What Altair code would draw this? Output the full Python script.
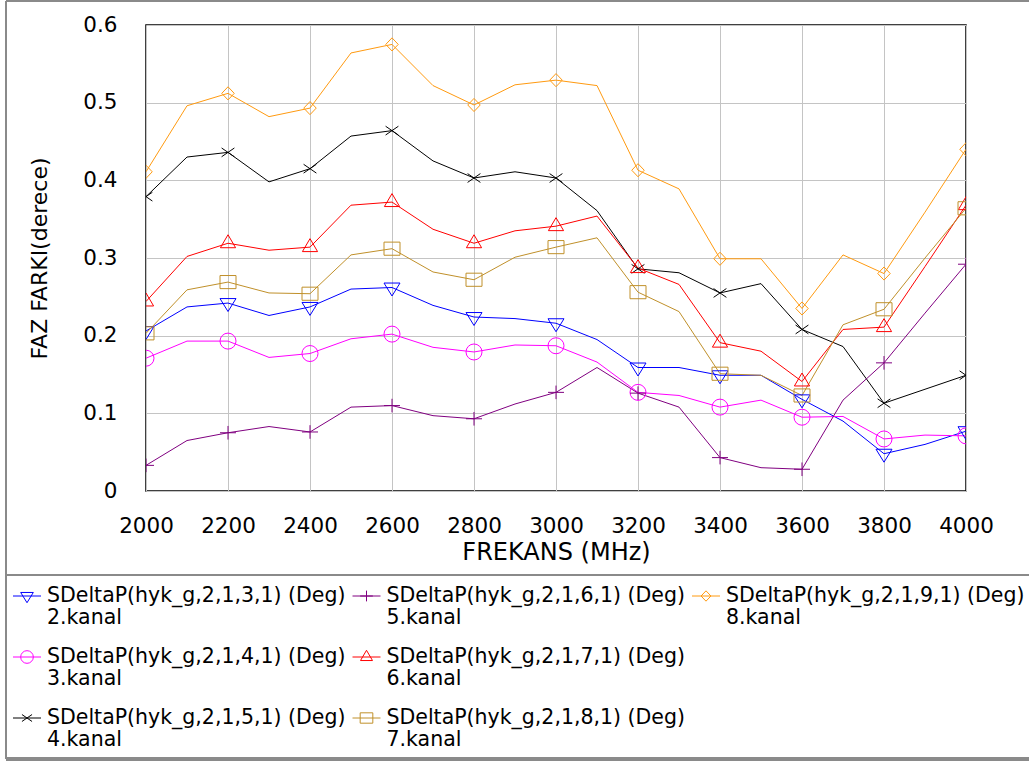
import altair as alt
import pandas as pd

# ---------------- data ----------------
freq = [2000, 2100, 2200, 2300, 2400, 2500, 2600, 2700, 2800, 2900, 3000,
        3100, 3200, 3300, 3400, 3500, 3600, 3700, 3800, 3900, 4000]
x_ticks = [2000, 2200, 2400, 2600, 2800, 3000, 3200, 3400, 3600, 3800, 4000]
y_ticks = [0, 0.1, 0.2, 0.3, 0.4, 0.5, 0.6]

k2 = [0.206, 0.237, 0.242, 0.226, 0.237, 0.260, 0.262, 0.239, 0.224, 0.222, 0.216,
      0.195, 0.159, 0.159, 0.149, 0.149, 0.118, 0.090, 0.048, 0.060, 0.077]
k3 = [0.171, 0.193, 0.193, 0.172, 0.177, 0.196, 0.202, 0.185, 0.179, 0.188, 0.187,
      0.166, 0.127, 0.123, 0.108, 0.117, 0.095, 0.096, 0.067, 0.072, 0.071]
k4 = [0.379, 0.430, 0.436, 0.398, 0.415, 0.457, 0.464, 0.425, 0.403, 0.411, 0.403,
      0.361, 0.286, 0.281, 0.255, 0.267, 0.208, 0.186, 0.113, 0.131, 0.149]
k5 = [0.033, 0.065, 0.075, 0.083, 0.076, 0.108, 0.110, 0.097, 0.093, 0.112, 0.127,
      0.159, 0.126, 0.108, 0.043, 0.030, 0.028, 0.117, 0.165, 0.229, 0.292]
k6 = [0.244, 0.302, 0.319, 0.310, 0.314, 0.368, 0.372, 0.337, 0.319, 0.335, 0.341,
      0.354, 0.287, 0.266, 0.191, 0.180, 0.141, 0.208, 0.211, 0.289, 0.368]
k7 = [0.203, 0.259, 0.269, 0.255, 0.254, 0.304, 0.312, 0.282, 0.272, 0.301, 0.314,
      0.326, 0.256, 0.231, 0.151, 0.149, 0.123, 0.214, 0.234, 0.300, 0.364]
k8 = [0.411, 0.496, 0.512, 0.482, 0.493, 0.564, 0.575, 0.522, 0.497, 0.523, 0.529,
      0.522, 0.413, 0.389, 0.299, 0.299, 0.235, 0.304, 0.280, 0.359, 0.440]

series_names = ["2.kanal", "3.kanal", "4.kanal", "5.kanal", "6.kanal", "7.kanal", "8.kanal"]
series_values = [k2, k3, k4, k5, k6, k7, k8]
legend_titles = ["SDeltaP(hyk_g,2,1,3,1) (Deg)", "SDeltaP(hyk_g,2,1,4,1) (Deg)",
                 "SDeltaP(hyk_g,2,1,5,1) (Deg)", "SDeltaP(hyk_g,2,1,6,1) (Deg)",
                 "SDeltaP(hyk_g,2,1,7,1) (Deg)", "SDeltaP(hyk_g,2,1,8,1) (Deg)",
                 "SDeltaP(hyk_g,2,1,9,1) (Deg)"]
legend_col = [0, 0, 0, 1, 1, 1, 2]
legend_row = [0, 1, 2, 0, 1, 2, 0]

# ---------------- styles ----------------
colors = ["#0000ff", "#ff00ff", "#000000", "#800080", "#ff0000", "#c0902a", "#ff9a10"]
shapes = [
    "M-1,-0.56L1,-0.56L0,1.06Z",                       # triangle down
    "circle",
    "M-0.8,-0.55L0.8,0.55M-0.8,0.55L0.8,-0.55",        # x
    "M-1,0L1,0M0,-0.85L0,0.85",                        # plus
    "M-0.95,0.56L0.95,0.56L0,-1.06Z",                  # triangle up
    "M-1,-0.82H1V0.82H-1Z",                            # square
    "M0,-0.82L0.78,0L0,0.82L-0.78,0Z",                 # diamond
]
FONT = "DejaVu Sans"

rows = []
for name, vals in zip(series_names, series_values):
    for f, v in zip(freq, vals):
        rows.append({"f": f, "v": v, "s": name})
df = pd.DataFrame(rows)

leg = pd.DataFrame({"s": series_names, "t1": legend_titles, "t2": series_names,
                    "col": legend_col, "row": legend_row})

color = alt.Color("s:N", scale=alt.Scale(domain=series_names, range=colors), legend=None)
shape = alt.Shape("s:N", scale=alt.Scale(domain=series_names, range=shapes), legend=None)

x = alt.X("f:Q", scale=alt.Scale(domain=[2000, 4000], nice=False),
          axis=alt.Axis(values=x_ticks, format="d", title="FREKANS (MHz)", labelPadding=24,
                        titlePadding=4, titleFontSize=24, labelFlush=False))
y = alt.Y("v:Q", scale=alt.Scale(domain=[0, 0.6], nice=False),
          axis=alt.Axis(values=y_ticks, format="~g", title="FAZ FARKI(derece)",
                        labelPadding=29, titlePadding=31, titleFontSize=22, labelFlush=False))

lines = alt.Chart(df).mark_line(strokeWidth=1, clip=True).encode(
    x=x, y=y, color=color, detail="s:N")
points = alt.Chart(df).transform_filter("datum.f % 200 == 0").mark_point(
    filled=False, size=256, strokeWidth=1, clip=True, opacity=1).encode(
    x=x, y=y, color=color, shape=shape)

plot = alt.layer(lines, points)

# ---------------- legend ----------------
lx = alt.X("col:Q", scale=alt.Scale(domain=[0, 2], range=[-119, 560]), axis=None)
ly = alt.Y("row:Q", scale=alt.Scale(domain=[0, 2], range=[571, 693]), axis=None)

leg_rule = alt.Chart(leg).mark_rule(xOffset=-14, x2Offset=14, strokeWidth=1).encode(
    x=lx, x2="col:Q", y=ly, color=color)
leg_pt = alt.Chart(leg).mark_point(filled=False, size=160, strokeWidth=1, opacity=1).encode(
    x=lx, y=ly, color=color, shape=shape)
leg_t1 = alt.Chart(leg).mark_text(align="left", baseline="middle", dx=20, font=FONT,
                                  fontSize=20.5, color="black").encode(x=lx, y=ly, text="t1:N")
leg_t2 = alt.Chart(leg).mark_text(align="left", baseline="middle", dx=20, dy=22, font=FONT,
                                  fontSize=20.5, color="black").encode(x=lx, y=ly, text="t2:N")

frame_color = "#8a8a8a"
frame_left = alt.Chart(leg).mark_rule(color=frame_color, strokeWidth=2).encode(
    x=alt.value(-140), y=alt.value(-24), y2=alt.value(734))
frame_top = alt.Chart(leg).mark_rule(color=frame_color, strokeWidth=1.5).encode(
    x=alt.value(-140), x2=alt.value(900), y=alt.value(-24))
frame_bottom = alt.Chart(leg).mark_rule(color=frame_color, strokeWidth=3).encode(
    x=alt.value(-140), x2=alt.value(900), y=alt.value(734))
frame_sep = alt.Chart(leg).mark_rule(color=frame_color, strokeWidth=2).encode(
    x=alt.value(-140), x2=alt.value(900), y=alt.value(550))

legend = alt.layer(leg_rule, leg_pt, leg_t1, leg_t2,
                   frame_left, frame_top, frame_bottom, frame_sep)

chart = alt.layer(plot, legend).resolve_scale(
    x="independent", y="independent"
).properties(
    width=820, height=466,
    autosize=alt.AutoSizeParams(type="none"),
    padding={"left": 146, "top": 25, "right": 63, "bottom": 271},
    background="white",
).configure_view(
    stroke="black", strokeWidth=1.5
).configure_axis(
    labelFont=FONT, labelFontSize=21.5, labelColor="black",
    titleFont=FONT, titleFontWeight="normal", titleColor="black",
    grid=True, gridColor="#c4c4c4", gridWidth=1, domain=False, ticks=False,
)

chart.save("out.html", embed_options={"renderer": "svg", "actions": False})
